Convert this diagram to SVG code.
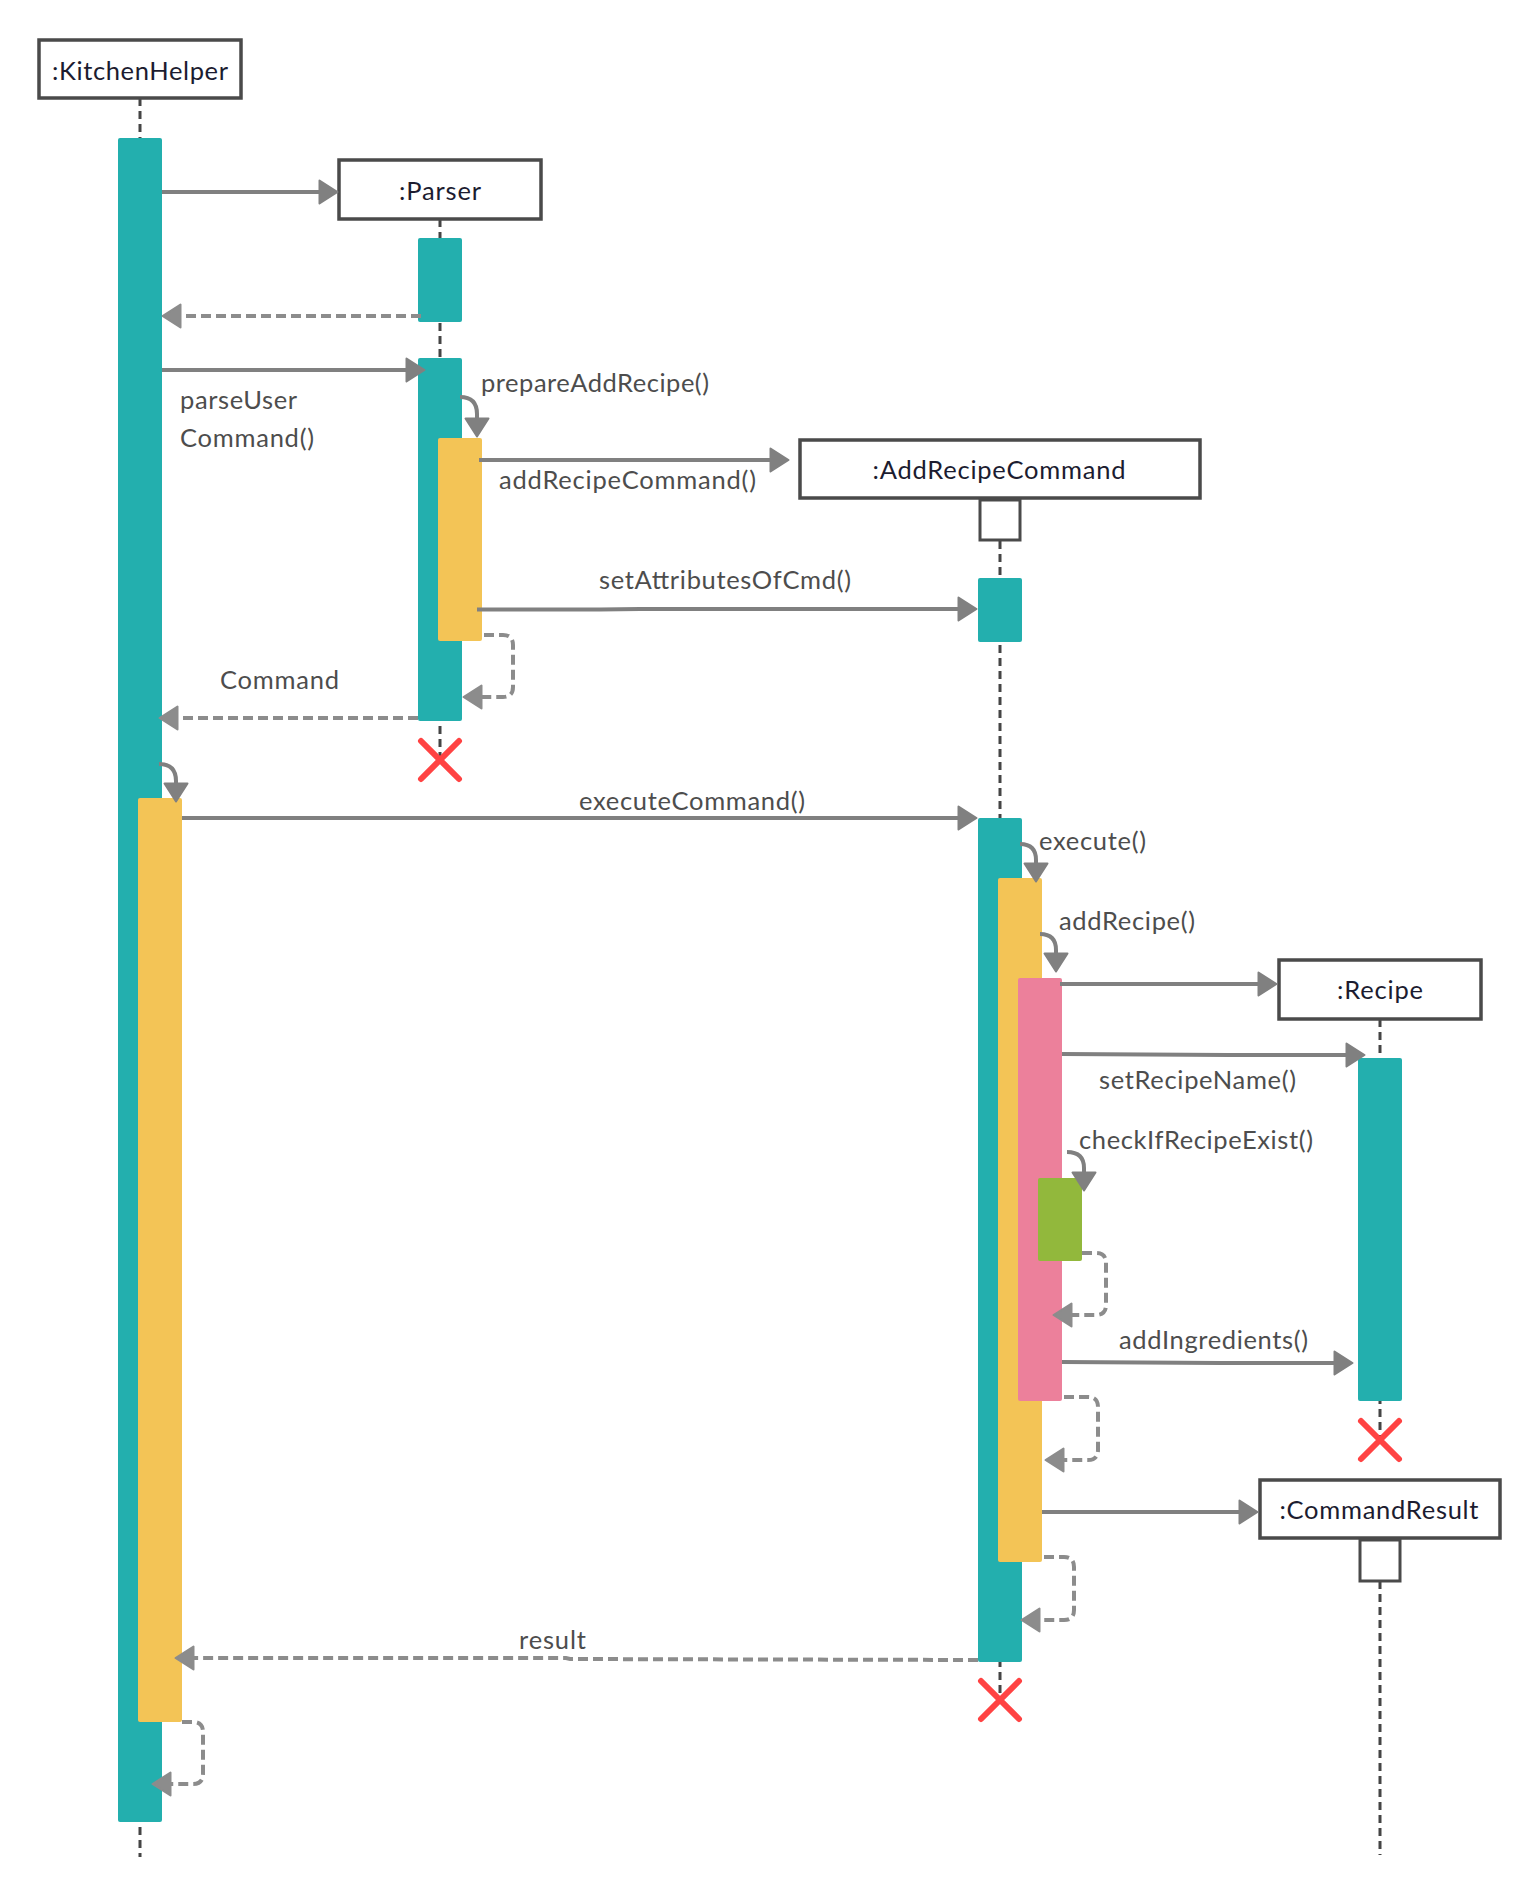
<svg xmlns="http://www.w3.org/2000/svg" width="1540" height="1900" viewBox="0 0 1540 1900">
<defs>
<style>
.box{fill:#fff;stroke:#4a4a4a;stroke-width:3.5}
.name{font-family:Lato,"Liberation Sans",sans-serif;font-size:25.5px;fill:#1c1c30;text-anchor:middle}
.lbl{font-family:Lato,"Liberation Sans",sans-serif;font-size:25.5px;fill:#4d4d4d}
.life{stroke:#454545;stroke-width:3;stroke-dasharray:8 5;fill:none}
.teal{fill:#23afae}
.yel{fill:#f3c456}
.pink{fill:#ec809b}
.green{fill:#92b83c}
.x{stroke:#ff4343;stroke-width:6;stroke-linecap:round;fill:none}
.msg{stroke:#808080;stroke-width:4;fill:none;marker-end:url(#ah)}
.ret{stroke:#8c8c8c;stroke-width:4;fill:none;stroke-dasharray:10 5;marker-end:url(#ahd)}
</style>
<marker id="ah" viewBox="0 0 21 26" refX="13" refY="13" markerWidth="21" markerHeight="26" markerUnits="userSpaceOnUse" orient="auto"><path d="M1.5,1.5 L19.5,13 L1.5,24.5 Z" fill="#808080" stroke="#808080" stroke-width="2" stroke-linejoin="round"/></marker>
<marker id="ahd" viewBox="0 0 21 26" refX="13" refY="13" markerWidth="21" markerHeight="26" markerUnits="userSpaceOnUse" orient="auto"><path d="M1.5,1.5 L19.5,13 L1.5,24.5 Z" fill="#8c8c8c" stroke="#8c8c8c" stroke-width="2" stroke-linejoin="round"/></marker>
</defs>
<rect width="1540" height="1900" fill="#fff"/>

<g id="kitchenhelper">
<line class="life" x1="140" y1="98" x2="140" y2="1857"/>
<rect class="box" x="39" y="40" width="202" height="58"/>
<text class="name" x="140" y="80" textLength="176">:KitchenHelper</text>
<rect class="teal" x="118" y="138" width="44" height="1684" rx="2"/>
<rect class="yel" x="138" y="798" width="44" height="924" rx="2"/>
</g>

<g id="parser">
<line class="life" x1="440" y1="219" x2="440" y2="760"/>
<rect class="box" x="339" y="160" width="202" height="59"/>
<text class="name" x="440" y="200" textLength="82">:Parser</text>
<rect class="teal" x="418" y="238" width="44" height="84" rx="2"/>
<rect class="teal" x="418" y="358" width="44" height="363" rx="2"/>
<rect class="yel" x="438" y="438" width="44" height="203" rx="2"/>
<path class="x" d="M421,741 L459,779 M459,741 L421,779"/>
</g>

<g id="addrecipecommand">
<line class="life" x1="1000" y1="541" x2="1000" y2="1700"/>
<rect class="box" x="800" y="440" width="400" height="58"/>
<text class="name" x="999" y="479" textLength="253">:AddRecipeCommand</text>
<rect class="box" x="980" y="500" width="40" height="40" style="stroke-width:3"/>
<rect class="teal" x="978" y="578" width="44" height="64" rx="2"/>
<rect class="teal" x="978" y="818" width="44" height="844" rx="2"/>
<rect class="yel" x="998" y="878" width="44" height="684" rx="2"/>
<rect class="pink" x="1018" y="978" width="44" height="423" rx="2"/>
<rect class="green" x="1038" y="1178" width="44" height="83" rx="2"/>
<path class="x" d="M981,1681 L1019,1719 M1019,1681 L981,1719"/>
</g>

<g id="recipe">
<line class="life" x1="1380" y1="1019" x2="1380" y2="1440"/>
<rect class="box" x="1279" y="960" width="202" height="59"/>
<text class="name" x="1380" y="999" textLength="86">:Recipe</text>
<rect class="teal" x="1358" y="1058" width="44" height="343" rx="2"/>
<path class="x" d="M1361,1421 L1399,1459 M1399,1421 L1361,1459"/>
</g>

<g id="commandresult">
<line class="life" x1="1380" y1="1581" x2="1380" y2="1855"/>
<rect class="box" x="1260" y="1480" width="240" height="58"/>
<text class="name" x="1379" y="1519" textLength="199">:CommandResult</text>
<rect class="box" x="1360" y="1540" width="40" height="41" style="stroke-width:3"/>
</g>

<g id="connectors">
<path class="msg" d="M162,192 H331"/>
<path class="ret" d="M421,316 H169"/>
<path class="msg" d="M162,370 H418"/>
<path class="msg" d="M460,397 Q477,397 477,414 V430"/>
<path class="msg" d="M479,460 H782"/>
<path class="msg" d="M477,609.5 L600,609.5 L640,609 H970"/>
<path class="ret" d="M484,635 H503 Q513,635 513,645 V687 Q513,697 503,697 H470"/>
<path class="ret" d="M418,718 H166"/>
<path class="msg" d="M159,764 Q176,764 176,781 V795"/>
<path class="msg" d="M182,818 H970"/>
<path class="msg" d="M1020,844 Q1036,844 1036,860 V875"/>
<path class="msg" d="M1040,934 Q1056,934 1056,950 V965"/>
<path class="msg" d="M1060,984 H1270"/>
<path class="msg" d="M1062,1054 L1228,1055 H1358"/>
<path class="msg" d="M1067,1152 Q1084,1152 1084,1168 V1184"/>
<path class="ret" d="M1082,1253 H1096 Q1106,1253 1106,1263 V1305 Q1106,1315 1096,1315 H1060"/>
<path class="msg" d="M1062,1362 L1220,1363 H1346"/>
<path class="ret" d="M1064,1397 H1088 Q1098,1397 1098,1407 V1450 Q1098,1460 1088,1460 H1052"/>
<path class="msg" d="M1042,1512 H1251"/>
<path class="ret" d="M1044,1557 H1064 Q1074,1557 1074,1567 V1610 Q1074,1620 1064,1620 H1028"/>
<path class="ret" d="M978,1660 L570,1659 L566,1658 H182"/>
<path class="ret" d="M182,1722 H193 Q203,1722 203,1732 V1774 Q203,1784 193,1784 H159"/>
</g>

<g id="labels">
<text class="lbl" x="180" y="409" textLength="117">parseUser</text>
<text class="lbl" x="180" y="447" textLength="134">Command()</text>
<text class="lbl" x="481" y="392" textLength="228">prepareAddRecipe()</text>
<text class="lbl" x="499" y="489" textLength="257">addRecipeCommand()</text>
<text class="lbl" x="599" y="589" textLength="252">setAttributesOfCmd()</text>
<text class="lbl" x="220" y="689" textLength="119">Command</text>
<text class="lbl" x="579" y="810" textLength="226">executeCommand()</text>
<text class="lbl" x="1039" y="850" textLength="107">execute()</text>
<text class="lbl" x="1059" y="930" textLength="136">addRecipe()</text>
<text class="lbl" x="1099" y="1089" textLength="197">setRecipeName()</text>
<text class="lbl" x="1079" y="1149" textLength="234">checkIfRecipeExist()</text>
<text class="lbl" x="1119" y="1349" textLength="189">addIngredients()</text>
<text class="lbl" x="519" y="1649" textLength="67">result</text>
</g>
</svg>
